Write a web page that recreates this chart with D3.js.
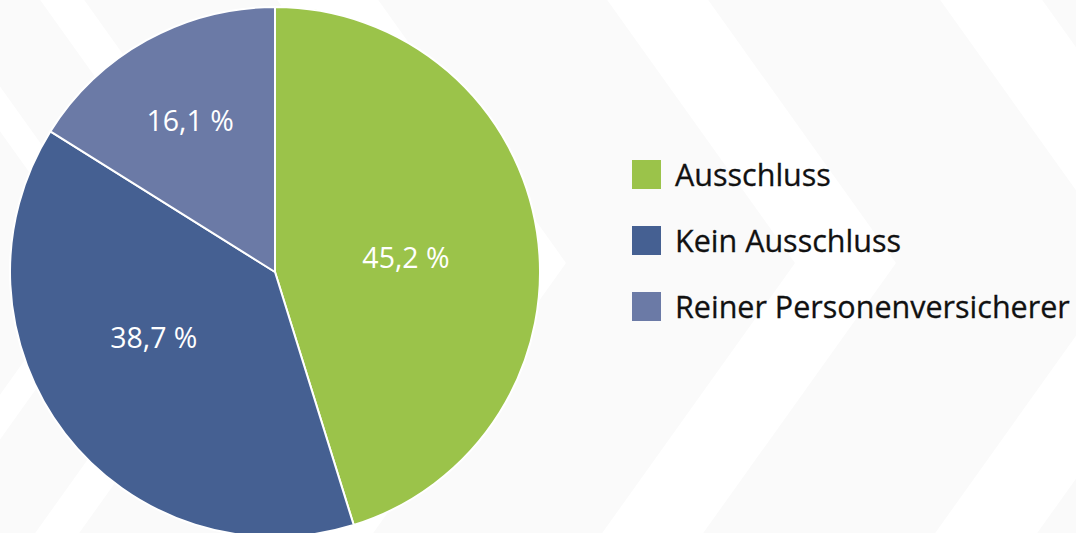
<!DOCTYPE html>
<html>
<head>
<meta charset="utf-8">
<script src="https://cdn.jsdelivr.net/npm/d3@7/dist/d3.min.js"></script>
<style>
  html, body { margin: 0; padding: 0; background: #ffffff; }
  svg { display: block; }
  text { font-family: "Open Sans", "Noto Sans", sans-serif; }
</style>
</head>
<body>
<svg id="chart" width="1076" height="533"></svg>
<script>
// ---- data ----
const categories = ["Ausschluss", "Kein Ausschluss", "Reiner Personenversicherer"];
const values = [45.2, 38.7, 16.1];
const valueLabels = ["45,2 %", "38,7 %", "16,1 %"];
const colors = ["#9bc34a", "#456092", "#6b7aa6"];

// ---- layout config (not data) ----
const W = 1076, H = 533;
const cx = 275, cy = 272, R = 265;
// label placement: radius fraction and angular nudge (degrees) per slice
const labelRadiusFrac = [0.497, 0.52, 0.655];
const labelAngleShift = [2.6, 9.2, -0.3];
// decorative chevron background: grey bands given by apex x ranges
const bgBands = [[-500, 94], [126, 228], [272, 465], [566, 795], [896, 1128], [1230, 1700]];
const bgApexY = 263, bgSlope = 0.714;

const svg = d3.select("#chart");

// background
const bg = svg.append("g");
bg.append("rect").attr("width", W).attr("height", H).attr("fill", "#ffffff");
bg.selectAll("path").data(bgBands).join("path")
  .attr("fill", "#fafafa")
  .attr("d", ([a, b]) => {
    const t = bgSlope * bgApexY, u = bgSlope * (H - bgApexY);
    const p = d3.path();
    p.moveTo(a - t, 0); p.lineTo(a, bgApexY); p.lineTo(a - u, H);
    p.lineTo(b - u, H); p.lineTo(b, bgApexY); p.lineTo(b - t, 0);
    p.closePath();
    return p.toString();
  });

// pie
const pie = d3.pie().sort(null).value(d => d).startAngle(0).endAngle(2 * Math.PI);
const arcs = pie(values);
const arc = d3.arc().innerRadius(0).outerRadius(R);
const color = d3.scaleOrdinal().domain(categories).range(colors);

const g = svg.append("g").attr("transform", `translate(${cx},${cy})`);
g.selectAll("path.slice").data(arcs).join("path")
  .attr("class", "slice")
  .attr("d", arc)
  .attr("fill", (d, i) => color(categories[i]))
  .attr("stroke", "#ffffff")
  .attr("stroke-width", 2)
  .attr("stroke-linejoin", "round");

const fs = 28.5;
g.selectAll("text.val").data(arcs).join("text")
  .attr("class", "val")
  .attr("text-anchor", "middle")
  .attr("fill", "#ffffff")
  .attr("font-size", fs)
  .attr("x", (d, i) => {
    const a = (d.startAngle + d.endAngle) / 2 + labelAngleShift[i] * Math.PI / 180;
    return Math.sin(a) * R * labelRadiusFrac[i];
  })
  .attr("y", (d, i) => {
    const a = (d.startAngle + d.endAngle) / 2 + labelAngleShift[i] * Math.PI / 180;
    return -Math.cos(a) * R * labelRadiusFrac[i] + fs * 0.36;
  })
  .text((d, i) => valueLabels[i]);

// legend
const legY = d3.scalePoint().domain(categories).range([160, 292]);
const leg = svg.append("g").attr("transform", "translate(632,0)");
const items = leg.selectAll("g").data(categories).join("g")
  .attr("transform", d => `translate(0,${legY(d)})`);
items.append("rect").attr("width", 29).attr("height", 29)
  .attr("fill", d => color(d));
items.append("text")
  .attr("x", 43).attr("y", 25.5)
  .attr("font-size", 30.5)
  .attr("fill", "#111111")
  .attr("stroke", "#111111")
  .attr("stroke-width", 0.3)
  .text(d => d);
</script>
</body>
</html>
